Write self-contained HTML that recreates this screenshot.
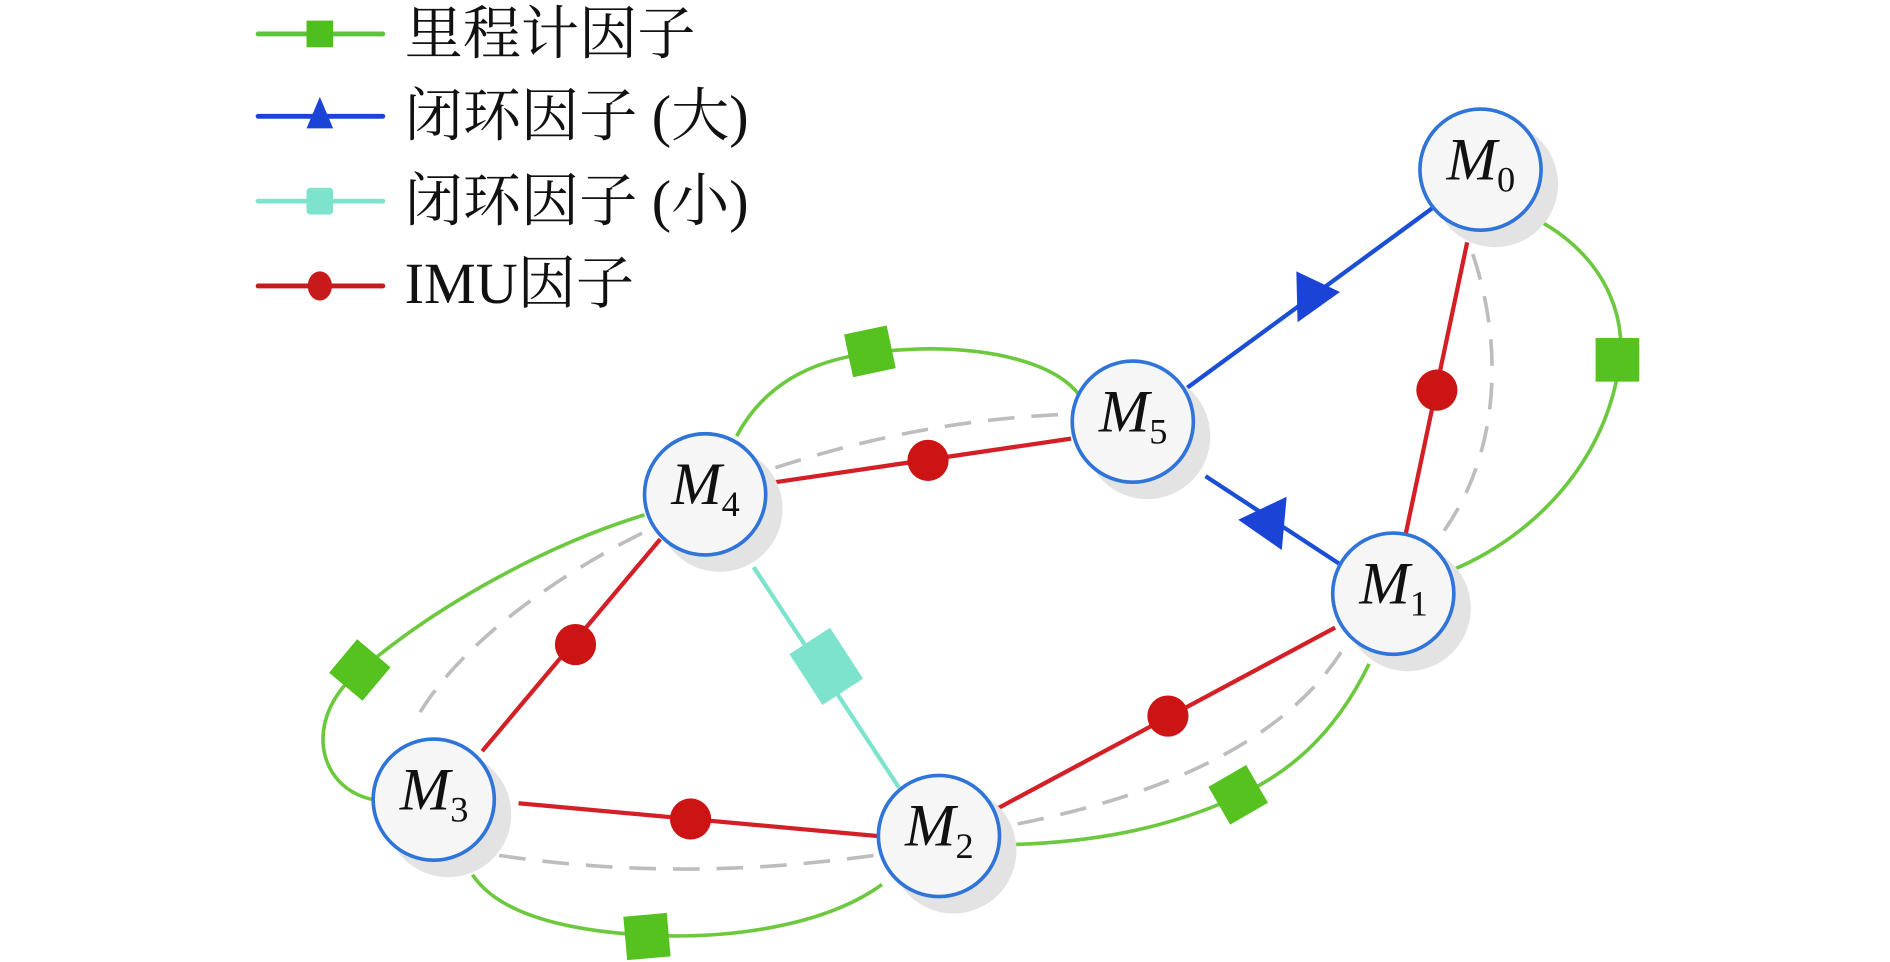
<!DOCTYPE html>
<html><head><meta charset="utf-8"><style>
html,body{margin:0;padding:0;background:#fff;width:1890px;height:962px;overflow:hidden}
svg{display:block}
.lg{font-family:"Liberation Serif","Noto Serif CJK SC",serif;font-size:48px;fill:#111}
.nl{font-family:"Liberation Serif",serif;font-style:italic;font-size:50px;fill:#111}
.sub{font-family:"Liberation Serif",serif;font-size:30px;fill:#111;font-style:normal}
</style></head><body>
<svg width="1890" height="962" viewBox="0 0 1560 794" preserveAspectRatio="none" xmlns="http://www.w3.org/2000/svg">
<g stroke-width="4" stroke-linecap="round">
<line x1="213" y1="28" x2="316" y2="28" stroke="#5cc33a"/>
<rect x="253" y="17" width="22" height="22" fill="#4fbf1f"/>
<line x1="213" y1="96" x2="316" y2="96" stroke="#1b44d6"/>
<polygon points="264,80 275,106 253,106" fill="#1b44d6"/>
<line x1="213" y1="166" x2="316" y2="166" stroke="#7de3cc"/>
<rect x="253" y="155" width="22" height="22" rx="3" fill="#7de3cc"/>
<line x1="213" y1="236" x2="316" y2="236" stroke="#c81a1a"/>
<ellipse cx="264" cy="236" rx="10" ry="12" fill="#c81a1a"/>
</g>
<text class="lg" x="334" y="44">里程计因子</text>
<text class="lg" x="334" y="112">闭环因子 (大)</text>
<text class="lg" x="334" y="182">闭环因子 (小)</text>
<text class="lg" x="334" y="250">IMU因子</text>

<g fill="none" stroke="#6cc93f" stroke-width="3">
<path d="M608,360 C640,300 700,290 760,288 C820,287 870,300 890,325"/>
<path d="M1270,182 C1330,215 1345,270 1335,310 C1322,380 1270,440 1200,470"/>
<path d="M1130,548 C1100,610 1060,640 1020,658 C960,685 900,695 838,697"/>
<path d="M728,730 C680,765 600,775 535,772 C460,768 410,752 390,722"/>
<path d="M308,660 C260,650 250,590 298,553 C360,500 450,450 532,425"/>
</g>
<g fill="none" stroke="#bdbdbd" stroke-width="3" stroke-dasharray="22,14">
<path d="M640,386 C720,360 800,345 880,342"/>
<path d="M530,440 C450,480 370,540 340,600"/>
<path d="M412,706 C520,722 620,720 722,706"/>
<path d="M840,680 C940,660 1060,620 1112,530"/>
<path d="M1192,438 C1240,370 1240,280 1215,208"/>
</g>
<g stroke="#d31f26" stroke-width="3.5">
<line x1="640" y1="398" x2="884" y2="362"/>
<line x1="545" y1="445" x2="398" y2="620"/>
<line x1="428" y1="663" x2="724" y2="690"/>
<line x1="822" y1="668" x2="1102" y2="518"/>
<line x1="1160" y1="442" x2="1211" y2="200"/>
</g>
<g fill="#cc1414">
<circle cx="766" cy="380" r="17"/>
<circle cx="475" cy="532" r="17"/>
<circle cx="570" cy="676" r="17"/>
<circle cx="964" cy="591" r="17"/>
<circle cx="1186" cy="322" r="17"/>
</g>
<g stroke="#1b4ed6" stroke-width="3.5">
<line x1="980" y1="320" x2="1182" y2="172"/>
<line x1="995" y1="393" x2="1105" y2="465"/>
</g>
<polygon points="1070,224 1106,241 1071,266" fill="#1b44d6"/>
<polygon points="1062,410 1022,429 1058,454" fill="#1b44d6"/>
<line x1="622" y1="468" x2="742" y2="650" stroke="#7de3cc" stroke-width="3.5"/>
<rect x="-20" y="-25" width="40" height="50" fill="#7de3cc" transform="translate(682,550) rotate(-33)"/>
<g fill="#55c21f">
<rect x="-18" y="-18" width="36" height="36" transform="translate(718,290) rotate(-12)"/>
<rect x="-18" y="-18" width="36" height="36" transform="translate(1335,297)"/>
<rect x="-18" y="-18" width="36" height="36" transform="translate(1022,656) rotate(-30)"/>
<rect x="-18" y="-18" width="36" height="36" transform="translate(534,773) rotate(-5)"/>
<rect x="-18" y="-18" width="36" height="36" transform="translate(297,553) rotate(40)"/>
</g>
<g>
<g transform="translate(1222,140)"><circle cx="12" cy="12" r="52" fill="#e3e3e3"/><circle r="50" fill="#f6f6f6" stroke="#2f74d8" stroke-width="3"/><text class="nl" x="-28" y="8">M<tspan class="sub" dy="10">0</tspan></text></g>
<g transform="translate(1150,490)"><circle cx="12" cy="12" r="52" fill="#e3e3e3"/><circle r="50" fill="#f6f6f6" stroke="#2f74d8" stroke-width="3"/><text class="nl" x="-28" y="8">M<tspan class="sub" dy="10">1</tspan></text></g>
<g transform="translate(775,690)"><circle cx="12" cy="12" r="52" fill="#e3e3e3"/><circle r="50" fill="#f6f6f6" stroke="#2f74d8" stroke-width="3"/><text class="nl" x="-28" y="8">M<tspan class="sub" dy="10">2</tspan></text></g>
<g transform="translate(358,660)"><circle cx="12" cy="12" r="52" fill="#e3e3e3"/><circle r="50" fill="#f6f6f6" stroke="#2f74d8" stroke-width="3"/><text class="nl" x="-28" y="8">M<tspan class="sub" dy="10">3</tspan></text></g>
<g transform="translate(582,408)"><circle cx="12" cy="12" r="52" fill="#e3e3e3"/><circle r="50" fill="#f6f6f6" stroke="#2f74d8" stroke-width="3"/><text class="nl" x="-28" y="8">M<tspan class="sub" dy="10">4</tspan></text></g>
<g transform="translate(935,348)"><circle cx="12" cy="12" r="52" fill="#e3e3e3"/><circle r="50" fill="#f6f6f6" stroke="#2f74d8" stroke-width="3"/><text class="nl" x="-28" y="8">M<tspan class="sub" dy="10">5</tspan></text></g>
</g>
</svg>
</body></html>
